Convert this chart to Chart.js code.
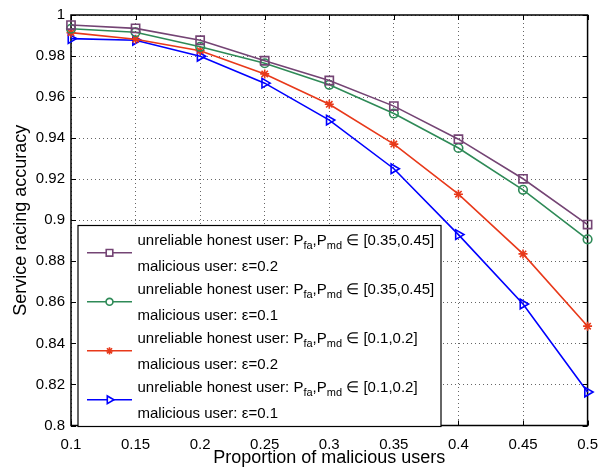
<!DOCTYPE html>
<html>
<head>
<meta charset="utf-8">
<script src="https://cdn.jsdelivr.net/npm/chart.js@4.4.0/dist/chart.umd.min.js"></script>
<style>
  html, body { margin: 0; padding: 0; background: #fff; }
  #wrap { width: 608px; height: 469px; }
</style>
</head>
<body>
<div id="wrap"><canvas id="chart" width="608" height="469"></canvas></div>
<script>
// data
const proportion = [0.1, 0.15, 0.2, 0.25, 0.3, 0.35, 0.4, 0.45, 0.5];
const accPurple = [0.9951, 0.9935, 0.9877, 0.9777, 0.9681, 0.9556, 0.9395, 0.9202, 0.8979];
const accGreen  = [0.9933, 0.9916, 0.9845, 0.9765, 0.9660, 0.9520, 0.9352, 0.9148, 0.8907];
const accRed    = [0.9914, 0.9882, 0.9826, 0.9713, 0.9565, 0.9371, 0.9127, 0.8836, 0.8484];
const accBlue   = [0.9885, 0.9877, 0.9799, 0.9668, 0.9488, 0.9251, 0.8930, 0.8592, 0.8163];
const ranges = ['[0.35,0.45]', '[0.35,0.45]', '[0.1,0.2]', '[0.1,0.2]'];
const epsilons = ['0.2', '0.1', '0.2', '0.1'];

const FONT = 'Liberation Sans, Arial, Helvetica, sans-serif';
const cPurple = '#744474', cGreen = '#2e8a57', cRed = '#e8391a', cBlue = '#0000ff';

function pts(ys) {
  return proportion.map((x, i) => ({ x: x, y: ys[i] }));
}

function ds(ys, color, style, rot, radius) {
  return {
    data: pts(ys),
    borderColor: color,
    borderWidth: 1.6,
    pointStyle: style,
    rotation: rot,
    pointRadius: radius,
    pointBorderColor: color,
    pointBackgroundColor: 'rgba(0,0,0,0)',
    pointBorderWidth: 1.6,
    clip: false,
    tension: 0
  };
}

const datasets = [
  ds(accPurple, cPurple, 'rect', 0, 5.8),
  ds(accGreen, cGreen, 'circle', 0, 4.3),
  ds(accRed, cRed, 'star', 0, 4.5),
  ds(accBlue, cBlue, 'triangle', 90, 5.5)
];

// black frame and inward ticks (matlab style)
const framePlugin = {
  id: 'frame',
  beforeDatasetsDraw(chart) {
    const ctx = chart.ctx, a = chart.chartArea;
    const xs = chart.scales.x, ys = chart.scales.y;
    ctx.save();
    ctx.strokeStyle = '#000';
    ctx.lineWidth = 1;
    ctx.beginPath();
    xs.ticks.forEach(t => {
      const px = Math.round(xs.getPixelForValue(t.value)) + 0.5;
      ctx.moveTo(px, a.bottom); ctx.lineTo(px, a.bottom - 5);
      ctx.moveTo(px, a.top); ctx.lineTo(px, a.top + 5);
    });
    ys.ticks.forEach(t => {
      const py = Math.round(ys.getPixelForValue(t.value)) + 0.5;
      ctx.moveTo(a.left, py); ctx.lineTo(a.left + 5, py);
      ctx.moveTo(a.right, py); ctx.lineTo(a.right - 5, py);
    });
    ctx.stroke();
    ctx.lineWidth = 1.5;
    ctx.strokeRect(a.left, a.top, a.right - a.left, a.bottom - a.top);
    ctx.restore();
  }
};

// legend with subscripts, drawn on top
function drawRich(ctx, x, y, parts) {
  parts.forEach(p => {
    if (p[1]) {
      ctx.font = '11px ' + FONT;
      ctx.fillText(p[0], x, y + 5);
    } else {
      ctx.font = '15px ' + FONT;
      ctx.fillText(p[0], x, y);
    }
    x += ctx.measureText(p[0]).width;
  });
}

const legendPlugin = {
  id: 'richLegend',
  afterDraw(chart) {
    const ctx = chart.ctx, a = chart.chartArea;
    const bx = a.left + 7, by = a.top + 210.5, bw = 363, bh = 201;
    ctx.save();
    ctx.fillStyle = '#fff';
    ctx.fillRect(bx, by, bw, bh);
    ctx.strokeStyle = '#000';
    ctx.lineWidth = 1.2;
    ctx.strokeRect(bx, by, bw, bh);
    chart.data.datasets.forEach((d, i) => {
      const my = by + 27.3 + 49 * i;
      ctx.strokeStyle = d.borderColor;
      ctx.lineWidth = 1.6;
      ctx.beginPath();
      ctx.moveTo(bx + 9, my); ctx.lineTo(bx + 54, my);
      ctx.stroke();
      ctx.fillStyle = '#fff';
      Chart.helpers.drawPoint(ctx, {
        pointStyle: d.pointStyle, rotation: d.rotation,
        radius: d.pointRadius * 0.8, borderWidth: 1.6
      }, bx + 31.5, my);
      ctx.fillStyle = '#000';
      ctx.textBaseline = 'middle';
      ctx.textAlign = 'left';
      drawRich(ctx, bx + 59.5, my - 11.5, [
        ['unreliable honest user: P', false], ['fa', true], [',P', false],
        ['md', true], [' \u2208 ' + ranges[i], false]
      ]);
      drawRich(ctx, bx + 59.5, my + 14, [['malicious user: \u03b5=' + epsilons[i], false]]);
    });
    ctx.restore();
  }
};

const fmt = v => String(Number(v.toFixed(2)));

new Chart(document.getElementById('chart'), {
  type: 'line',
  data: { datasets: datasets },
  options: {
    responsive: false,
    animation: false,
    layout: { padding: { left: 0, top: 10.5, right: 17, bottom: 0 } },
    plugins: { legend: { display: false }, tooltip: { enabled: false } },
    scales: {
      x: {
        type: 'linear', min: 0.1, max: 0.5,
        afterFit: s => { s.height = 43.5; },
        border: { display: false, dash: [1, 3] },
        grid: { color: 'rgba(0,0,0,0.6)', lineWidth: 1, drawTicks: false },
        ticks: { stepSize: 0.05, padding: 10, color: '#000', font: { family: FONT, size: 15 }, callback: fmt, maxRotation: 0 },
        title: { display: true, text: 'Proportion of malicious users', color: '#000', font: { family: FONT, size: 18 }, padding: { top: 0, bottom: 0 } }
      },
      y: {
        min: 0.8, max: 1,
        afterFit: s => { s.width = 71; },
        border: { display: false, dash: [1, 3] },
        grid: { color: 'rgba(0,0,0,0.6)', lineWidth: 1, drawTicks: false },
        ticks: { stepSize: 0.02, padding: 6, color: '#000', font: { family: FONT, size: 15 }, callback: fmt },
        title: { display: true, text: 'Service racing accuracy', color: '#000', font: { family: FONT, size: 18 }, padding: { top: 10, bottom: 0 } }
      }
    }
  },
  plugins: [framePlugin, legendPlugin]
});
</script>
</body>
</html>
